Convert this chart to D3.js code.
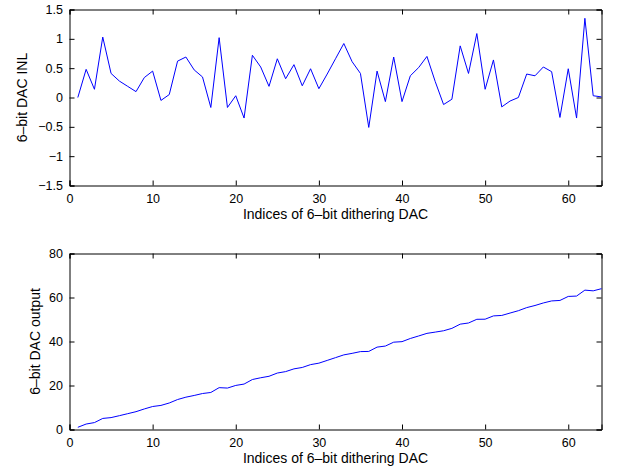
<!DOCTYPE html>
<html lang="en">
<head>
	<meta charset="UTF-8">
	<title>6-bit dithering DAC</title>
	<script src="https://cdn.jsdelivr.net/npm/d3@7"></script>
	<style>
		body { margin: 0; background: #fff; }
		svg text { font-family: "Liberation Sans", Arial, sans-serif; font-size: 12px; fill: #000; }
	</style>
</head>
<body>
<div id="chart"></div>
<script>

// indices 1..64 of the dithering DAC
const indices = d3.range(1, 65);

// INL
const inl = [
	0.00, 0.48, 0.14, 1.03, 0.41, 0.28, 0.19, 0.10, 0.34, 0.45,
	-0.05, 0.05, 0.62, 0.69, 0.47, 0.35, -0.17, 1.02, -0.17, 0.03,
	-0.35, 0.72, 0.52, 0.19, 0.66, 0.32, 0.56, 0.20, 0.49, 0.15,
	0.40, 0.66, 0.92, 0.61, 0.41, -0.51, 0.45, -0.07, 0.69, -0.07,
	0.37, 0.51, 0.70, 0.27, -0.12, -0.03, 0.88, 0.41, 1.09, 0.14,
	0.64, -0.16, -0.06, 0.00, 0.40, 0.37, 0.52, 0.44, -0.34, 0.49,
	-0.35, 1.35, 0.03, 0.01
];

// DAC output
const output = [
	1.00, 2.48, 3.14, 5.03, 5.41, 6.28, 7.19, 8.10, 9.34, 10.45,
	10.95, 12.05, 13.62, 14.69, 15.47, 16.35, 16.83, 19.02, 18.83, 20.03,
	20.65, 22.72, 23.52, 24.19, 25.66, 26.32, 27.56, 28.20, 29.49, 30.15,
	31.40, 32.66, 33.92, 34.61, 35.41, 35.49, 37.45, 37.93, 39.69, 39.93,
	41.37, 42.51, 43.70, 44.27, 44.88, 45.97, 47.88, 48.41, 50.09, 50.14,
	51.64, 51.84, 52.94, 54.00, 55.40, 56.37, 57.52, 58.44, 58.66, 60.49,
	60.65, 63.35, 63.03, 64.01
];

const xTicks = [0, 10, 20, 30, 40, 50, 60];
const inlTicks = [-1.5, -1, -0.5, 0, 0.5, 1, 1.5];
const outTicks = [0, 20, 40, 60, 80];

const xLabel = 'Indices of 6\u2013bit dithering DAC';
const inlLabel = '6\u2013bit DAC INL';
const outLabel = '6\u2013bit DAC output';

const W = 622, H = 470;
const left = 69.5, right = 601.5;
const tickLen = 5;

const svg = d3.select('#chart').append('svg')
	.attr('width', W)
	.attr('height', H);

const fmt = v => String(v).replace('-', '\u2212');

function panel(top, bottom, yDomain, yTicks, values, yLabel, yLabelX){
	const x = d3.scaleLinear().domain([0, 64]).range([left, right]);
	const y = d3.scaleLinear().domain(yDomain).range([bottom, top]);
	const g = svg.append('g');

	// inward ticks on all four sides, MATLAB style
	g.append('g').attr('transform', `translate(0,${bottom})`)
		.call(d3.axisBottom(x).tickValues(xTicks).tickSize(-tickLen).tickPadding(9).tickFormat(fmt));
	g.append('g').attr('transform', `translate(0,${top})`)
		.call(d3.axisTop(x).tickValues(xTicks).tickSize(-tickLen).tickFormat(''));
	g.append('g').attr('transform', `translate(${left},0)`)
		.call(d3.axisLeft(y).tickValues(yTicks).tickSize(-tickLen).tickPadding(6.5).tickFormat(fmt));
	g.append('g').attr('transform', `translate(${right},0)`)
		.call(d3.axisRight(y).tickValues(yTicks).tickSize(-tickLen).tickFormat(''));

	g.selectAll('.domain').attr('stroke', '#000').attr('stroke-width', 1);
	g.selectAll('.tick line').attr('stroke', '#000');
	g.selectAll('.tick text').style('font-size', '12.5px');

	const line = d3.line()
		.x((d, i) => x(indices[i]))
		.y(d => y(d));

	g.append('path')
		.datum(values)
		.attr('fill', 'none')
		.attr('stroke', '#0000ff')
		.attr('stroke-width', 1)
		.attr('d', line);

	g.append('text')
		.attr('x', (left + right) / 2)
		.attr('y', bottom + 33)
		.attr('text-anchor', 'middle')
		.style('font-size', '14px')
		.text(xLabel);

	g.append('text')
		.attr('transform', `translate(${yLabelX},${(top + bottom) / 2}) rotate(-90)`)
		.attr('text-anchor', 'middle')
		.style('font-size', '14px')
		.text(yLabel);
}

panel(9.5, 185.5, [-1.5, 1.5], inlTicks, inl, inlLabel, 27);
panel(253.5, 429.5, [0, 80], outTicks, output, outLabel, 40);

</script>
</body>
</html>
